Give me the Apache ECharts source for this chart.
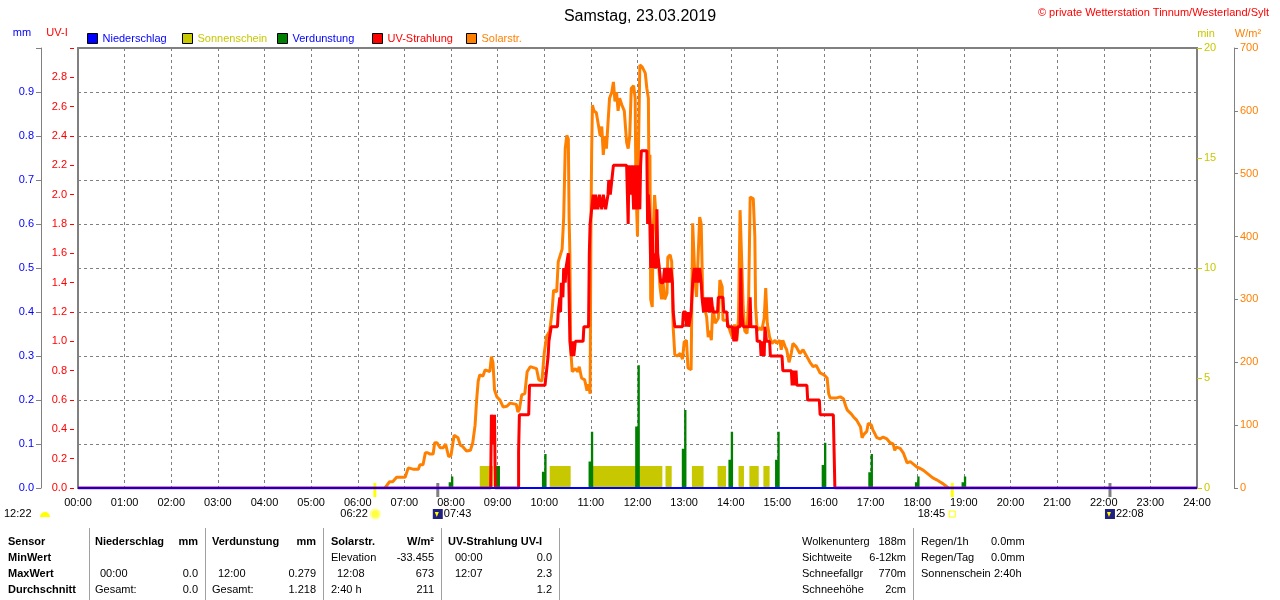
<!DOCTYPE html>
<html>
<head>
<meta charset="utf-8">
<title>Samstag, 23.03.2019</title>
<script src="https://cdn.jsdelivr.net/npm/echarts@6/dist/echarts.min.js"></script>
<style>
html,body{margin:0;padding:0;background:#fff}
#chart{width:1280px;height:600px}
</style>
</head>
<body>
<div id="chart"></div>
<script>
// Zeitachse in Minuten seit Mitternacht
const toMin = s => { const p = s.split(':').map(Number); return p[0] * 60 + p[1] }
const pad = n => (n < 10 ? '0' : '') + n
const FONT = '"Liberation Sans", Arial, sans-serif'

// Niederschlag mm
const rainTimes = ['00:00', '24:00']
const rainValues = [0, 0]

// Sonnenschein (min), Intervalle mit Sonne
const sunStart = ['08:37', '10:07', '11:02', '12:36', '13:10', '13:43', '14:10', '14:24', '14:42']
const sunEnd = ['08:54', '10:34', '12:32', '12:44', '13:25', '13:54', '14:17', '14:36', '14:50']
const sunValues = [1, 1, 1, 1, 1, 1, 1, 1, 1]

// Verdunstung mm (Stundenwerte)
const evapTimes = ['08:00', '09:00', '10:00', '11:00', '12:00', '13:00', '14:00', '15:00', '16:00', '17:00', '18:00', '19:00']
const evapValues = [0.026, 0.05, 0.077, 0.128, 0.279, 0.177, 0.128, 0.128, 0.103, 0.077, 0.026, 0.026]
const evapPre = [0.013, 0.05, 0.037, 0.06, 0.14, 0.089, 0.064, 0.064, 0.052, 0.036, 0.013, 0.013]

// UV-Strahlung UV-I
const uvTimes = ['00:00', '08:51', '08:52', '08:54', '08:55', '08:56', '08:57', '09:27', '09:27', '09:28', '09:40', '09:41',
  '10:01', '10:03', '10:05', '10:06', '10:09', '10:17', '10:18', '10:20', '10:21', '10:22', '10:24', '10:25', '10:27', '10:28',
  '10:30', '10:31', '10:33', '10:33', '10:35', '10:37', '10:38', '10:40', '10:50', '10:51', '10:57', '10:58', '10:59', '11:01',
  '11:03', '11:05', '11:06', '11:09', '11:11', '11:14', '11:16', '11:19', '11:22', '11:23', '11:25', '11:27', '11:29', '11:46',
  '11:47', '11:48', '11:49', '11:51', '11:53', '11:55', '11:57', '11:59', '12:01', '12:03', '12:04', '12:05', '12:12', '12:13',
  '12:14', '12:16', '12:17', '12:19', '12:20', '12:22', '12:24', '12:25', '12:26', '12:28', '12:30', '12:33', '12:35', '12:37',
  '12:39', '12:41', '12:43', '12:45', '12:46', '12:48', '12:58', '12:59', '13:02', '13:03', '13:05', '13:06', '13:08', '13:09',
  '13:10', '13:11', '13:13', '13:14', '13:16', '13:18', '13:20', '13:22', '13:23', '13:25', '13:27', '13:29', '13:31', '13:33',
  '13:35', '13:37', '13:43', '13:44', '13:50', '13:51', '13:55', '13:56', '14:02', '14:04', '14:06', '14:07', '14:09', '14:12',
  '14:13', '14:14', '14:16', '14:18', '14:24', '14:25', '14:26', '14:33', '14:34', '14:38', '14:39', '14:41', '14:43', '14:44',
  '14:46', '14:50', '14:51', '15:06', '15:07', '15:18', '15:19', '15:21', '15:22', '15:24', '15:25', '15:38', '15:39', '15:54',
  '15:55', '16:12', '16:13', '16:14', '24:00']
const uvValues = [0, 0, 0.5, 0.5, 0.3, 0.5, 0, 0, 0.25, 0.5, 0.5, 0.7,
  0.7, 0.8, 0.9, 1.0, 1.1, 1.1, 1.2, 1.3, 1.2, 1.4, 1.3, 1.5, 1.4, 1.5,
  1.5, 1.6, 1.6, 1.0, 0.9, 1.0, 0.9, 1.0, 1.0, 1.1, 1.1, 1.6, 1.8, 1.9,
  2.0, 1.9, 2.0, 1.9, 2.0, 1.9, 2.0, 1.9, 2.0, 2.1, 2.0, 2.1, 2.2, 2.2,
  2.0, 1.8, 2.2, 2.0, 2.2, 1.9, 2.2, 1.9, 2.2, 1.9, 2.2, 2.3, 2.3, 1.8,
  2.0, 1.8, 1.5, 1.8, 1.5, 1.6, 1.5, 1.9, 1.6, 1.5, 1.4, 1.4, 1.5, 1.4,
  1.5, 1.4, 1.5, 1.4, 1.2, 1.1, 1.1, 1.2, 1.2, 1.1, 1.2, 1.1, 1.1, 1.2,
  1.3, 1.4, 1.5, 1.4, 1.5, 1.4, 1.5, 1.4, 1.3, 1.2, 1.3, 1.2, 1.3, 1.2,
  1.3, 1.2, 1.2, 1.3, 1.3, 1.2, 1.2, 1.1, 1.1, 1.0, 1.1, 1.0, 1.1, 1.1,
  1.5, 1.2, 1.1, 1.1, 1.1, 1.3, 1.1, 1.1, 1.0, 1.0, 0.9, 1.0, 0.9, 1.1,
  1.0, 1.0, 0.9, 0.9, 0.8, 0.8, 0.7, 0.8, 0.7, 0.8, 0.7, 0.7, 0.6, 0.6,
  0.5, 0.5, 0.25, 0, 0]

// Solarstrahlung W/m²
const solarTimes = ['06:35', '06:37', '06:41', '06:45', '06:50', '07:01', '07:05', '07:07', '07:11', '07:18', '07:20', '07:24',
  '07:27', '07:30', '07:33', '07:37', '07:39', '07:42', '07:46', '07:50', '07:53', '07:55', '07:57', '08:00', '08:04', '08:09',
  '08:12', '08:15', '08:20', '08:25', '08:28', '08:31', '08:33', '08:35', '08:37', '08:41', '08:44', '08:50', '08:52', '08:54',
  '08:56', '08:59', '09:03', '09:07', '09:12', '09:16', '09:24', '09:26', '09:28', '09:31', '09:35', '09:38', '09:42', '09:50',
  '09:53', '09:57', '10:00', '10:03', '10:07', '10:10', '10:12', '10:16', '10:18', '10:23', '10:25', '10:27', '10:29', '10:31',
  '10:32', '10:33', '10:34', '10:36', '10:40', '10:43', '10:45', '10:48', '10:52', '10:55', '10:57', '10:59', '11:00', '11:01',
  '11:02', '11:04', '11:07', '11:10', '11:12', '11:14', '11:16', '11:18', '11:20', '11:22', '11:24', '11:27', '11:29', '11:31',
  '11:33', '11:35', '11:37', '11:40', '11:43', '11:46', '11:48', '11:50', '11:52', '11:55', '11:57', '11:58', '12:00', '12:01',
  '12:03', '12:06', '12:08', '12:10', '12:12', '12:14', '12:15', '12:16', '12:17', '12:19', '12:20', '12:22', '12:24', '12:25',
  '12:27', '12:29', '12:31', '12:33', '12:35', '12:38', '12:39', '12:42', '12:44', '12:46', '12:48', '12:51', '12:55', '12:58',
  '13:00', '13:03', '13:05', '13:09', '13:11', '13:13', '13:14', '13:16', '13:18', '13:20', '13:22', '13:24', '13:26', '13:29',
  '13:31', '13:33', '13:35', '13:37', '13:40', '13:44', '13:46', '13:49', '13:50', '13:55', '13:59', '14:02', '14:05', '14:08',
  '14:10', '14:12', '14:14', '14:16', '14:18', '14:21', '14:23', '14:25', '14:29', '14:31', '14:32', '14:34', '14:38', '14:40',
  '14:43', '14:45', '14:47', '14:50', '14:53', '14:57', '14:59', '15:03', '15:05', '15:07', '15:10', '15:12', '15:15', '15:18',
  '15:20', '15:24', '15:29', '15:33', '15:38', '15:42', '15:46', '15:50', '15:55', '16:00', '16:04', '16:06', '16:08', '16:15',
  '16:21', '16:25', '16:28', '16:30', '16:35', '16:38', '16:42', '16:47', '16:49', '16:51', '16:55', '16:57', '17:01', '17:03',
  '17:06', '17:08', '17:12', '17:16', '17:21', '17:25', '17:29', '17:31', '17:33', '17:35', '17:38', '17:42', '17:47', '17:51',
  '17:55', '18:00', '18:04', '18:08', '18:12', '18:16', '18:20', '18:25', '18:29', '18:33', '18:36', '18:38', '18:40']
const solarValues = [0, 2, 10, 10, 17, 17, 32, 32, 30, 30, 37, 37,
  56, 56, 54, 54, 72, 72, 64, 64, 70, 68, 50, 52, 84, 80,
  68, 66, 59, 60, 72, 100, 140, 170, 180, 178, 188, 185, 209, 200,
  156, 145, 140, 129, 130, 135, 133, 121, 125, 148, 150, 185, 193, 190,
  172, 170, 215, 241, 250, 280, 315, 312, 360, 380, 430, 540, 561, 555,
  430, 371, 222, 185, 190, 185, 193, 175, 172, 155, 165, 150, 400, 535,
  609, 600, 597, 575, 560, 575, 530, 560, 540, 580, 620, 630, 646, 615,
  630, 600, 620, 609, 600, 550, 540, 560, 636, 640, 620, 480, 400, 520,
  673, 670, 673, 660, 636, 620, 450, 530, 300, 288, 400, 466, 430, 371,
  360, 320, 300, 326, 300, 310, 367, 371, 360, 254, 212, 210, 214, 205,
  232, 235, 191, 188, 421, 423, 330, 304, 367, 431, 420, 300, 288, 272,
  240, 250, 235, 288, 262, 270, 331, 320, 267, 267, 250, 240, 260, 235,
  272, 442, 440, 288, 250, 246, 300, 463, 460, 400, 288, 251, 255, 251,
  270, 318, 262, 240, 230, 235, 230, 235, 220, 235, 225, 220, 200, 215,
  230, 225, 214, 220, 209, 200, 193, 195, 183, 180, 175, 150, 143, 143,
  145, 142, 130, 124, 118, 113, 108, 97, 80, 85, 90, 103, 100, 92,
  85, 80, 78, 81, 78, 72, 70, 60, 65, 62, 63, 56, 40, 42,
  38, 33, 31, 28, 24, 20, 16, 13, 10, 7, 4, 2, 0]

// Sonne / Mond
const astroLabels = ['06:22', '07:43', '18:45', '22:08']
const astroKinds = ['sunrise', 'moonrise', 'sunset', 'moonset']
const dayLength = '12:22'

// Tabelle unter dem Diagramm
const tableRowNames = ['Sensor', 'MinWert', 'MaxWert', 'Durchschnitt']
const rainCells = [['Niederschlag', 'mm'], ['', ''], ['00:00', '0.0'], ['Gesamt:', '0.0']]
const evapCells = [['Verdunstung', 'mm'], ['', ''], ['12:00', '0.279'], ['Gesamt:', '1.218']]
const solarCells = [['Solarstr.', 'W/m²'], ['Elevation', '-33.455'], ['12:08', '673'], ['2:40 h', '211']]
const uvCells = [['UV-Strahlung UV-I', ''], ['00:00', '0.0'], ['12:07', '2.3'], ['', '1.2']]
const weatherNames = ['Wolkenunterg', 'Sichtweite', 'Schneefallgr', 'Schneehöhe']
const weatherValues = ['188m', '6-12km', '770m', '2cm']
const rainSumNames = ['Regen/1h', 'Regen/Tag', 'Sonnenschein']
const rainSumValues = ['0.0mm', '0.0mm', '2:40h']

const legendNames = ['Niederschlag', 'Sonnenschein', 'Verdunstung', 'UV-Strahlung', 'Solarstr.']
const legendColors = ['#0000ff', '#c8c800', '#008000', '#ff0000', '#ff8000']
const legendTextColors = ['#0000ff', '#c8c800', '#0000ff', '#ff0000', '#ff8000']
const legendLeft = [87, 182, 277, 372, 466]

// Flächen aufbauen
const sunData = []
sunStart.forEach((s, i) => {
  const a = toMin(s), b = toMin(sunEnd[i])
  sunData.push([a, 0], [a, sunValues[i]], [b, sunValues[i]], [b, 0])
})
const evapData = []
evapTimes.forEach((t, i) => {
  const m = toMin(t)
  evapData.push([m - 3, 0], [m - 3, evapPre[i]], [m, evapPre[i]], [m, evapValues[i]], [m + 3, evapValues[i]], [m + 3, 0])
})

const txt = (text, x, y, opt) => ({
  type: 'text', x: x, y: y, silent: true,
  style: Object.assign({
    text: text, fill: '#000', font: '11px ' + FONT, align: 'left', verticalAlign: 'middle'
  }, opt || {})
})

const option = {
  animation: false,
  backgroundColor: '#fff',
  title: {
    text: 'Samstag, 23.03.2019', left: 'center', top: 4,
    textStyle: { fontSize: 16, fontWeight: 'normal', color: '#000', fontFamily: FONT }
  },
  legend: legendNames.map((n, i) => ({
    data: [{ name: n, itemStyle: { color: legendColors[i], borderColor: '#000', borderWidth: 1 }, textStyle: { color: legendTextColors[i] } }],
    left: legendLeft[i], top: 33, icon: 'rect', itemWidth: 10, itemHeight: 10, padding: 0,
    selectedMode: false,
    textStyle: { fontSize: 11, fontFamily: FONT }
  })),
  grid: { left: 78, right: 83, top: 48, bottom: 112, show: true, borderColor: '#808080', borderWidth: 2, backgroundColor: 'transparent' },
  xAxis: {
    type: 'value', min: 0, max: 1440, interval: 60,
    axisLine: { show: true, onZero: false, lineStyle: { color: '#808080', width: 2 } },
    axisTick: { show: false },
    axisLabel: { color: '#000', fontSize: 11, fontFamily: FONT, margin: 9, showMinLabel: true, showMaxLabel: true,
      formatter: v => pad(Math.round(v / 60)) + ':00' },
    splitLine: { show: true, lineStyle: { color: '#808080', type: [3, 3], width: 1 } }
  },
  yAxis: [
    { // mm
      type: 'value', min: 0, max: 1, interval: 0.1, position: 'left', offset: 37,
      axisLine: { show: true, onZero: false, lineStyle: { color: '#808080', width: 1 } },
      axisTick: { show: true, length: 5, lineStyle: { color: '#808080' } },
      axisLabel: { color: '#0000ff', fontSize: 11, fontFamily: FONT, margin: 7, formatter: v => v > 0.95 ? '' : v.toFixed(1) },
      splitLine: { show: true, lineStyle: { color: '#808080', type: [3, 3], width: 1 } }
    },
    { // UV-I
      type: 'value', min: 0, max: 3, interval: 0.2, position: 'left', offset: 4,
      axisLine: { show: false, onZero: false },
      axisTick: { show: true, length: 4, lineStyle: { color: '#ff0000' } },
      axisLabel: { color: '#ff0000', fontSize: 11, fontFamily: FONT, margin: 7, formatter: v => v > 2.9 ? '' : v.toFixed(1) },
      splitLine: { show: false }
    },
    { // min
      type: 'value', min: 0, max: 20, interval: 5, position: 'right', offset: 0,
      axisLine: { show: false, onZero: false },
      axisTick: { show: true, length: 5, lineStyle: { color: '#c8c800' } },
      axisLabel: { color: '#c8c800', fontSize: 11, fontFamily: FONT, margin: 7 },
      splitLine: { show: false }
    },
    { // W/m²
      type: 'value', min: 0, max: 700, interval: 100, position: 'right', offset: 37,
      axisLine: { show: true, onZero: false, lineStyle: { color: '#808080', width: 1 } },
      axisTick: { show: true, length: 4, lineStyle: { color: '#808080' } },
      axisLabel: { color: '#ff8000', fontSize: 11, fontFamily: FONT, margin: 6 },
      splitLine: { show: false }
    }
  ],
  series: [
    {
      name: 'Sonnenschein', type: 'line', yAxisIndex: 2, data: sunData, symbol: 'none', z: 2,
      lineStyle: { width: 0 }, itemStyle: { color: '#c8c800' }, areaStyle: { color: '#c8c800', opacity: 1 }
    },
    {
      name: 'Verdunstung', type: 'line', yAxisIndex: 0, data: evapData, symbol: 'none', z: 3,
      lineStyle: { width: 0 }, itemStyle: { color: '#008000' }, areaStyle: { color: '#008000', opacity: 1 }
    },
    {
      name: 'Solarstr.', type: 'line', yAxisIndex: 3, symbol: 'none', z: 4,
      data: solarTimes.map((t, i) => [toMin(t), solarValues[i]]),
      lineStyle: { width: 3, color: '#ff8000' }, itemStyle: { color: '#ff8000' }
    },
    {
      name: 'UV-Strahlung', type: 'line', yAxisIndex: 1, symbol: 'none', z: 5,
      data: uvTimes.map((t, i) => [toMin(t), uvValues[i]]),
      lineStyle: { width: 3, color: '#ff0000' }, itemStyle: { color: '#ff0000' }
    },
    {
      name: 'Niederschlag', type: 'line', yAxisIndex: 0, symbol: 'none', z: 6,
      data: rainTimes.map((t, i) => [toMin(t), rainValues[i]]),
      lineStyle: { width: 2, color: '#0000ff' }, itemStyle: { color: '#0000ff' }
    }
  ]
}

const chart = echarts.init(document.getElementById('chart'))
chart.setOption(option)

// Beschriftungen, Tabelle und Sonne/Mond-Marken
const g = []
g.push(txt('© private Wetterstation Tinnum/Westerland/Sylt', 1269, 13, { fill: '#ff0000', align: 'right' }))
g.push(txt('mm', 22, 33, { fill: '#0000ff', align: 'center' }))
g.push(txt('UV-I', 57, 33, { fill: '#ff0000', align: 'center' }))
g.push(txt('min', 1206, 34, { fill: '#c8c800', align: 'center' }))
g.push(txt('W/m²', 1248, 34, { fill: '#ff8000', align: 'center' }))

const y0 = chart.convertToPixel({ yAxisIndex: 0 }, 0)
const xPx = t => chart.convertToPixel({ xAxisIndex: 0 }, toMin(t))
astroLabels.forEach((t, i) => {
  const x = xPx(t)
  const kind = astroKinds[i]
  const isSun = kind.indexOf('sun') === 0
  g.push({ type: 'rect', silent: true, shape: { x: x - 1.5, y: y0 - 5, width: 3, height: 14 },
    style: { fill: isSun ? '#ffff00' : '#808080' } })
  if (kind === 'sunrise') {
    g.push(txt(t, x - 7, 514, { align: 'right' }))
    g.push({ type: 'circle', silent: true, shape: { cx: x + 0.5, cy: 514, r: 4.5 }, style: { fill: '#ffff40', stroke: '#ffff90', lineWidth: 2 } })
  } else if (kind === 'sunset') {
    g.push(txt(t, x - 7, 514, { align: 'right' }))
    g.push({ type: 'rect', silent: true, shape: { x: x - 3, y: 511, width: 6, height: 6 }, style: { fill: '#fff', stroke: '#ffff00', lineWidth: 1 } })
  } else {
    g.push({ type: 'rect', silent: true, shape: { x: x - 5, y: 509, width: 10, height: 10 }, style: { fill: '#202080' } })
    g.push({ type: 'polygon', silent: true, shape: { points: [[x - 3, 512], [x + 1, 512], [x - 1, 517]] }, style: { fill: '#ffff00' } })
    g.push(txt(t, x + 6, 514))
  }
})
g.push(txt(dayLength, 4, 514))
g.push({ type: 'sector', silent: true, shape: { cx: 45, cy: 517, r0: 0, r: 5, startAngle: Math.PI, endAngle: Math.PI * 2 }, style: { fill: '#ffff00' } })

// Tabelle
const rowY = [542, 558, 574, 590]
const bold = '600 11px ' + FONT
tableRowNames.forEach((n, i) => g.push(txt(n, 8, rowY[i], { font: bold })))
const cols = [
  { cells: rainCells, left: 95, indent: 100, right: 198 },
  { cells: evapCells, left: 212, indent: 218, right: 316 },
  { cells: solarCells, left: 331, indent: 337, right: 434 },
  { cells: uvCells, left: 448, indent: 455, right: 552 }
]
cols.forEach(c => {
  c.cells.forEach((cell, r) => {
    const f = r === 0 ? { font: bold } : {}
    const lx = (r === 0 || cell[0] === 'Gesamt:' || cell[0] === 'Elevation' || cell[0].indexOf(' h') > 0) ? c.left : c.indent
    if (cell[0]) g.push(txt(cell[0], lx, rowY[r], f))
    if (cell[1]) g.push(txt(cell[1], c.right, rowY[r], Object.assign({ align: 'right' }, f)))
  })
})
;[89, 205, 323, 441, 559, 913].forEach(x => {
  g.push({ type: 'line', silent: true, shape: { x1: x + 0.5, y1: 528, x2: x + 0.5, y2: 600 }, style: { stroke: '#a0a0a0', lineWidth: 1 } })
})
weatherNames.forEach((n, i) => {
  g.push(txt(n, 802, rowY[i]))
  g.push(txt(weatherValues[i], 906, rowY[i], { align: 'right' }))
})
rainSumNames.forEach((n, i) => {
  g.push(txt(n, 921, rowY[i]))
  g.push(txt(rainSumValues[i], i === 2 ? 994 : 991, rowY[i]))
})

chart.setOption({ graphic: g })
</script>
</body>
</html>
